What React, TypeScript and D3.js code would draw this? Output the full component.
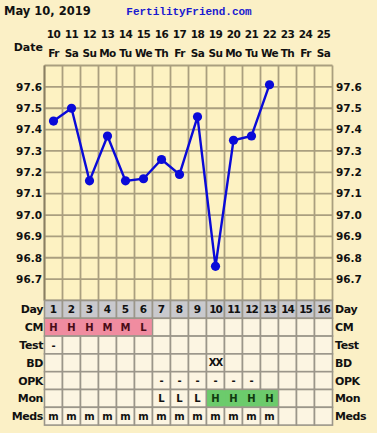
import React from "react";
import * as d3 from "d3";

const dates = ["10","11","12","13","14","15","16","17","18","19","20","21","22","23","24","25"];
const weekdays = ["Fr","Sa","Su","Mo","Tu","We","Th","Fr","Sa","Su","Mo","Tu","We","Th","Fr","Sa"];
const cycleDays = dates.map((_, i) => String(i + 1));
const temps = [97.44, 97.50, 97.16, 97.37, 97.16, 97.17, 97.26, 97.19, 97.46, 96.76, 97.35, 97.37, 97.61];
const yTicks = [97.6, 97.5, 97.4, 97.3, 97.2, 97.1, 97.0, 96.9, 96.8, 96.7];
const cmValues = ["H","H","H","M","M","L"];
const testValues = ["-"];
const bdValues = ["","","","","","","","","","XX"];
const opkValues = ["","","","","","","-","-","-","-","-","-"];
const monValues = ["","","","","","","L","L","L","H","H","H","H"];
const medsValues = ["m","m","m","m","m","m","m","m","m","m","m","m","m"];

const W = 377, H = 433;
const left = 44.5, right = 332.5;
const gridTop = 65.5, gridBottom = 300.5;
const rowH = 17.8;
const font = "'DejaVu Sans', Verdana, sans-serif";

export default function App() {
  const x = d3.scaleBand<number>().domain(d3.range(16)).range([left, right]);
  const y = d3.scaleLinear().domain([96.6, 97.7]).range([gridBottom, gridTop]);
  const cx = (i: number) => (x(i) as number) + x.bandwidth() / 2;
  const line = d3.line<number>().x((_, i) => cx(i)).y(d => y(d));
  const gridColor = "#aa9f7f";
  const hLines = d3.range(96.6, 97.75, 0.1).map(v => +v.toFixed(1));

  const rows: { label: string; vals: string[] }[] = [
    { label: "Day", vals: cycleDays },
    { label: "CM", vals: cmValues },
    { label: "Test", vals: testValues },
    { label: "BD", vals: bdValues },
    { label: "OPK", vals: opkValues },
    { label: "Mon", vals: monValues },
    { label: "Meds", vals: medsValues },
  ];

  const cellFill = (r: number, i: number) => {
    if (r === 0) return "#c9c9cd";
    if (r === 1 && i < cmValues.length) return "#f08ca0";
    if (r === 5 && monValues[i] === "H") return "#6ccb6c";
    return "#fcf5e2";
  };
  const colored = (r: number, i: number) => (r === 1 && i < cmValues.length) || (r === 5 && monValues[i] === "H");

  return (
    <svg width={W} height={H} style={{ position: "fixed", left: 0, top: 0 }}>
      <rect x={0} y={0} width={W} height={H} fill="#fbf0c6" />
      <text x={4} y={15} fontFamily={font} fontWeight="bold" fontSize={11.5} fill="#111">May 10, 2019</text>
      <text x={189} y={15} textAnchor="middle" fontFamily="'Liberation Mono', monospace" fontWeight="bold" fontSize={11} fill="#1a1ad0">FertilityFriend.com</text>
      <text x={43} y={51} textAnchor="end" fontFamily={font} fontWeight="bold" fontSize={11} fill="#111">Date</text>
      {dates.map((d, i) => (
        <text key={"d" + i} x={cx(i)} y={38} textAnchor="middle" fontFamily={font} fontWeight="bold" fontSize={10.5} letterSpacing={-0.6} fill="#111">{d}</text>
      ))}
      {weekdays.map((d, i) => (
        <text key={"w" + i} x={cx(i)} y={57} textAnchor="middle" fontFamily={font} fontWeight="bold" fontSize={10.5} letterSpacing={-0.6} fill="#111">{d}</text>
      ))}
      <rect x={left} y={gridTop} width={right - left} height={gridBottom - gridTop} fill="#fdf2c2" />
      {hLines.map(v => (
        <line key={"h" + v} x1={left} x2={right} y1={y(v)} y2={y(v)} stroke={gridColor} strokeWidth={1.8} />
      ))}
      {d3.range(17).map(i => (
        <line key={"v" + i} x1={left + i * x.step()} x2={left + i * x.step()} y1={gridTop} y2={gridBottom} stroke={gridColor} strokeWidth={1.8} />
      ))}
      <line x1={left} x2={left} y1={gridTop} y2={gridBottom} stroke="#8a7f62" strokeWidth={1.8} />
      {yTicks.map(v => (
        <g key={"t" + v}>
          <text x={42} y={y(v)} dy="0.36em" textAnchor="end" fontFamily={font} fontWeight="bold" fontSize={10.5} fill="#111">{v.toFixed(1)}</text>
          <text x={336} y={y(v)} dy="0.36em" textAnchor="start" fontFamily={font} fontWeight="bold" fontSize={10.5} fill="#111">{v.toFixed(1)}</text>
        </g>
      ))}
      <path d={line(temps) || ""} fill="none" stroke="#0a0ad8" strokeWidth={2.4} />
      {temps.map((t, i) => (
        <circle key={"c" + i} cx={cx(i)} cy={y(t)} r={4.6} fill="#0a0ad8" />
      ))}
      {rows.map((row, r) => {
        const ry = gridBottom + r * rowH;
        return (
          <g key={"r" + r}>
            {d3.range(16).map(i => (
              <rect key={i} x={x(i)} y={ry} width={x.bandwidth()} height={rowH} fill={cellFill(r, i)} stroke="#9b968a" strokeWidth={1.6} />
            ))}
            {d3.range(16).filter(i => colored(r, i)).map(i => (
              <rect key={"f" + i} x={(x(i) as number) + 0.8} y={ry + 0.8} width={x.bandwidth() + (colored(r, i + 1) ? 0.8 : -1.6)} height={rowH - 1.6} fill={cellFill(r, i)} />
            ))}
            {row.vals.map((v, i) => v ? (
              <text key={"v" + i} x={cx(i)} y={ry + rowH / 2} dy="0.36em" textAnchor="middle" fontFamily={font} fontWeight="bold" fontSize={r === 0 ? 10.5 : 10} letterSpacing={v.length > 1 ? -1 : 0} fill={r === 1 ? "#4a0c18" : r === 5 && v === "H" ? "#0f3a0f" : "#111"}>{v}</text>
            ) : null)}
            <text x={43} y={ry + rowH / 2} dy="0.36em" textAnchor="end" fontFamily={font} fontWeight="bold" fontSize={11} letterSpacing={-0.4} fill="#111">{row.label}</text>
            <text x={335} y={ry + rowH / 2} dy="0.36em" textAnchor="start" fontFamily={font} fontWeight="bold" fontSize={11} letterSpacing={-0.4} fill="#111">{row.label}</text>
          </g>
        );
      })}
    </svg>
  );
}
